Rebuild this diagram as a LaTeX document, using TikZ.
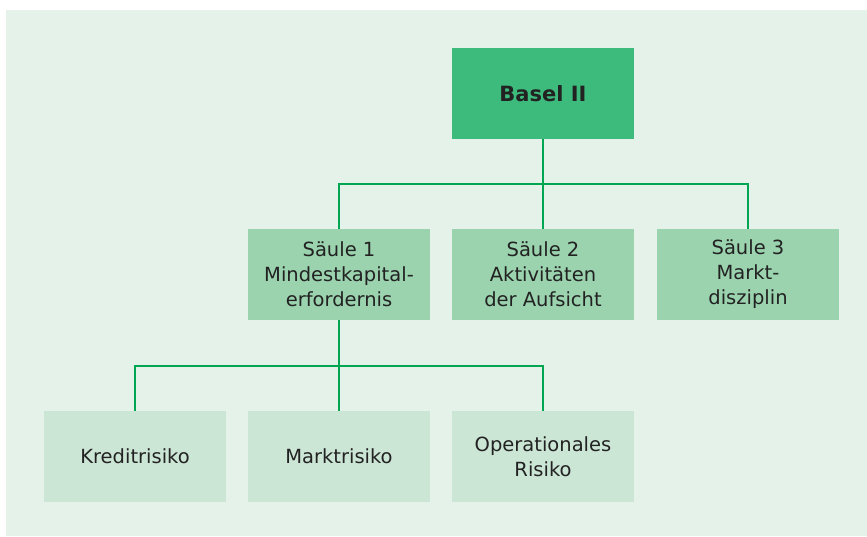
\documentclass[tikz,border=0pt]{standalone}
\usepackage{fontspec}
\setmainfont{DejaVu Sans}
\definecolor{panelbg}{HTML}{E4F2EA}
\definecolor{topfill}{HTML}{3DBB7C}
\definecolor{midfill}{HTML}{9AD3AE}
\definecolor{lowfill}{HTML}{CCE6D6}
\definecolor{linegreen}{HTML}{00A651}
\definecolor{txt}{HTML}{222222}
\begin{document}
\begin{tikzpicture}[x=1pt,y=-1pt,
  box/.style={minimum width=182pt,minimum height=91pt,inner sep=0pt,align=center,
    text=txt,font=\fontsize{19.5}{25}\selectfont},
  topbox/.style={box,fill=topfill,font=\fontsize{21}{25}\selectfont\bfseries},
  midbox/.style={box,fill=midfill},
  lowbox/.style={box,fill=lowfill},
  conn/.style={draw=linegreen,line width=2.5pt}]
\useasboundingbox (0,0) rectangle (867,536);
\fill[panelbg] (6,10) rectangle (867,536);
\node[topbox] (basel) at (543,93.5) {Basel II};
\node[midbox] (s1) at (339,274.5) {Säule 1\\Mindestkapital-\\erfordernis};
\node[midbox] (s2) at (543,274.5) {Säule 2\\Aktivitäten\\der Aufsicht};
\node[midbox] (s3) at (748,274.5) {Säule 3\\Markt-\\disziplin};
\node[lowbox] (k) at (135,456.5) {Kreditrisiko};
\node[lowbox] (m) at (339,456.5) {Marktrisiko};
\node[lowbox] (o) at (543,456.5) {Operationales\\Risiko};
\coordinate (j1) at (543,184);
\coordinate (j2) at (339,366);
\draw[conn] (basel.south) -- (j1);
\draw[conn] (s1.north) |- (j1) -| (s3.north);
\draw[conn] (j1) -- (s2.north);
\draw[conn] (s1.south) -- (m.north);
\draw[conn] (k.north) |- (j2) -| (o.north);
\end{tikzpicture}
\end{document}
